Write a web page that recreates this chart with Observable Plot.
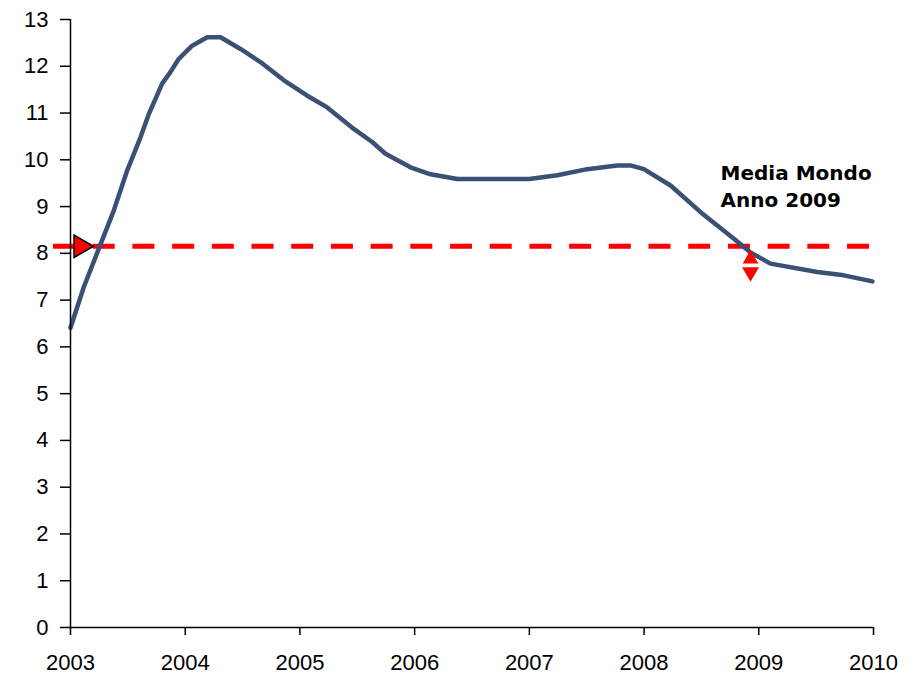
<!DOCTYPE html>
<html>
<head>
<meta charset="utf-8">
<script src="https://cdn.jsdelivr.net/npm/d3@7"></script>
<script src="https://cdn.jsdelivr.net/npm/@observablehq/plot@0.6"></script>
<style>
  html, body { margin: 0; padding: 0; background: #fff; }
  #chart svg { display: block; }
</style>
</head>
<body>
<div id="chart"></div>
<script>
// Series
const years = [2003.0, 2003.116, 2003.378, 2003.494, 2003.61, 2003.683, 2003.799, 2003.872, 2003.944,
  2004.061, 2004.192, 2004.308, 2004.482, 2004.656, 2004.86, 2005.064, 2005.238, 2005.47, 2005.63,
  2005.746, 2005.964, 2006.139, 2006.371, 2007.0, 2007.243, 2007.505, 2007.766, 2007.882, 2007.998,
  2008.231, 2008.493, 2008.783, 2008.928, 2009.102, 2009.51, 2009.742, 2009.99];
const values = [6.41, 7.28, 8.92, 9.77, 10.48, 10.98, 11.63, 11.88, 12.16,
  12.44, 12.62, 12.62, 12.37, 12.09, 11.70, 11.37, 11.12, 10.66, 10.38,
  10.13, 9.84, 9.69, 9.59, 9.59, 9.67, 9.80, 9.88, 9.88, 9.80,
  9.45, 8.88, 8.31, 8.02, 7.78, 7.60, 7.53, 7.40];

// Reference (world average 2009)
const worldAverage = 8.15;
const refStart = 2002.852;
const refEnd = 2009.98;

// Axis ticks
const xTicks = [2003, 2004, 2005, 2006, 2007, 2008, 2009, 2010];
const yTicks = d3.range(0, 14);

// Annotation
const labelLines = ["Media Mondo", "Anno 2009"];
const labelX = 2008.667;
const labelY = [9.70, 9.13];
const arrowX = 2008.928;
const arrowUpY = 7.88;
const arrowDownY = 7.60;

const series = years.map((y, i) => ({year: y, value: values[i]}));

const lineColor = "#3a5075";
const red = "#ff0000";

const chart = Plot.plot({
  width: 922,
  height: 677,
  marginLeft: 70,
  marginRight: 49,
  marginTop: 19,
  marginBottom: 50,
  style: {fontFamily: "Liberation Sans, Arial, sans-serif", fontSize: "22px", color: "#000", background: "#fff"},
  x: {domain: [2003, 2010]},
  y: {domain: [0, 13]},
  marks: [
    Plot.ruleY([worldAverage], {x1: refStart, x2: refEnd, stroke: red, strokeWidth: 5, strokeDasharray: "22,17.7"}),
    Plot.line(series, {x: "year", y: "value", stroke: lineColor, strokeWidth: 4.5, strokeLinejoin: "round", strokeLinecap: "round"}),
    Plot.ruleX([2003], {y1: 0, y2: 13, stroke: "#000", strokeWidth: 1.5}),
    Plot.ruleY([0], {x1: 2003, x2: 2010, stroke: "#000", strokeWidth: 1.5}),
    Plot.axisY({ticks: yTicks, tickSize: 10, tickPadding: 12, tickFormat: d => String(d), label: null, fontSize: 22, strokeWidth: 1.5}),
    Plot.axisX({ticks: xTicks, tickSize: 8, tickPadding: 19, tickFormat: d => String(d), label: null, fontSize: 22, strokeWidth: 1.5}),
    Plot.dot([{x: 2003, y: worldAverage}], {x: "x", y: "y", dx: 10, symbol: "triangle", rotate: 90, r: 8.3, fill: red, stroke: "#000", strokeWidth: 1.5}),
    Plot.dot([{x: arrowX, y: arrowUpY}], {x: "x", y: "y", symbol: "triangle", r: 5.8, fill: red, stroke: "none"}),
    Plot.dot([{x: arrowX, y: arrowDownY}], {x: "x", y: "y", symbol: "triangle", rotate: 180, r: 6.3, fill: red, stroke: "none"}),
    Plot.text(labelLines.map((t, i) => ({t, y: labelY[i]})), {x: () => labelX, y: "y", text: "t", textAnchor: "start", lineAnchor: "middle", fontFamily: "DejaVu Sans, Verdana, sans-serif", fontWeight: "bold", fontSize: 20, fill: "#000"})
  ]
});
document.getElementById("chart").appendChild(chart);
</script>
</body>
</html>
